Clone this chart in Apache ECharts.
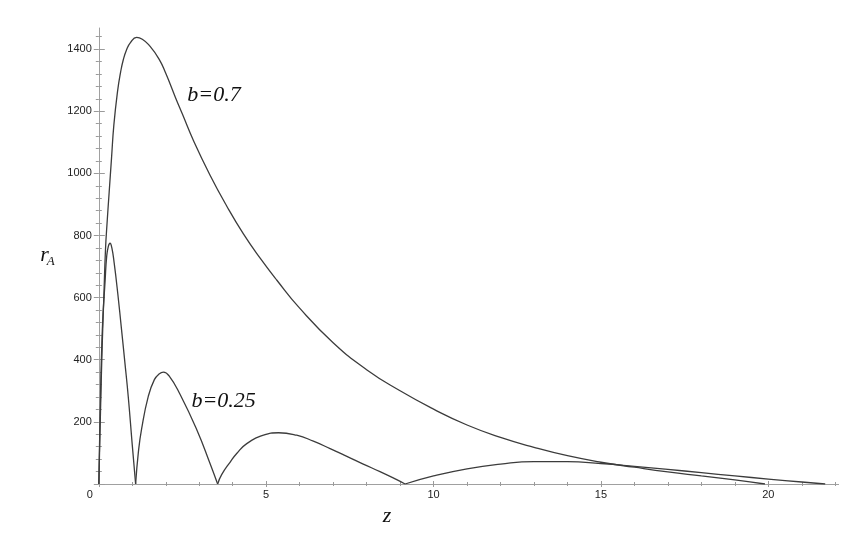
<!DOCTYPE html>
<html>
<head>
<meta charset="utf-8">
<script src="https://cdn.jsdelivr.net/npm/echarts@6/dist/echarts.min.js"></script>
<style>
html,body{margin:0;padding:0;background:#ffffff;}
#c{width:861px;height:545px;}
</style>
</head>
<body>
<div id="c"></div>
<script>
// ---- data ----
const zB07 = [0, 0.05, 0.1, 0.15, 0.2, 0.25, 0.31, 0.38, 0.45, 0.56, 0.65, 0.73, 0.83, 0.95, 1.13, 1.3, 1.5, 1.8, 2.0, 2.28, 2.5, 2.83, 3.32, 3.82, 4.32, 4.82, 5.32, 6.0, 7.0, 8.0, 9.0, 10.0, 11.0, 12.0, 13.0, 14.0, 15.0, 16.0, 17.0, 18.0, 19.0, 19.9];
const rB07 = [0, 230, 440, 600, 755, 845, 940, 1049, 1156, 1264, 1325, 1365, 1398, 1422, 1438, 1432, 1413, 1368, 1322, 1247, 1190, 1105, 995, 895, 805, 727, 656, 566, 455, 368, 300, 241, 190, 150, 118, 91, 70, 54, 39, 26, 13, 0];

const zB025 = [0, 0.03, 0.105, 0.19, 0.235, 0.285, 0.335, 0.39, 0.46, 0.57, 0.68, 0.78, 0.88, 1.0, 1.10, 1.18, 1.28, 1.48, 1.66, 1.8, 1.93, 2.1, 2.43, 2.93, 3.32, 3.55, 3.67, 3.92, 4.12, 4.42, 4.92, 5.37, 5.91, 6.41, 6.91, 7.41, 7.90, 8.40, 8.9, 9.15, 10, 11, 12, 13, 14, 15, 16, 17, 18, 19, 20, 21, 21.7];
const rB025 = [0, 174, 496, 657, 732, 765, 775, 760, 711, 610, 496, 390, 281, 125, 0, 100, 178, 283, 336, 354, 360, 348, 288, 174, 67, 0, 30, 70, 98, 130, 157, 165, 157, 138, 114, 89, 64, 40, 14, 0, 26, 49, 64, 72, 72, 66, 57, 47, 36.5, 26, 16, 6.5, 0];

const xMajorTicks = [0, 5, 10, 15, 20];
const xMinorTicks = [1, 2, 3, 4, 6, 7, 8, 9, 11, 12, 13, 14, 16, 17, 18, 19, 21, 22];
const yMajorTicks = [0, 200, 400, 600, 800, 1000, 1200, 1400];
const yLabelTicks = [200, 400, 600, 800, 1000, 1200, 1400];
const yMinorTicks = [40, 80, 120, 160, 240, 280, 320, 360, 440, 480, 520, 560, 640, 680, 720, 760, 840, 880, 920, 960, 1040, 1080, 1120, 1160, 1240, 1280, 1320, 1360, 1440];
const curveLabels = ['b=0.7', 'b=0.25'];
const xName = 'z';
const yName = 'r';
const yNameSub = 'A';

const X_MAX = 22.1;
const Y_MAX = 1468;

// ---- build ----
function pairs(zs, rs) { return zs.map((z, i) => [z, rs[i]]); }
// split a curve into arches at its interior zeros so cusps stay sharp
function arches(zs, rs) {
  const segs = [];
  let cur = [];
  for (let i = 0; i < zs.length; i++) {
    cur.push([zs[i], rs[i]]);
    if (rs[i] === 0 && i > 0 && i < zs.length - 1) {
      segs.push(cur);
      cur = [[zs[i], rs[i]]];
    }
  }
  if (cur.length > 1) segs.push(cur);
  return segs;
}

const TICK = '#9a9a9a';
const LINE = '#3c3c3c';
const SANS = 'Liberation Sans, Arial, sans-serif';
const SMOOTH = 0.5;

function xAxis(ticks, len, inside, main) {
  return {
    type: 'value', min: 0, max: X_MAX, position: 'bottom', offset: 0,
    axisLine: { show: main, lineStyle: { color: '#a0a0a0', width: 1 } },
    axisTick: { show: true, inside: inside, length: len, customValues: ticks, lineStyle: { color: TICK, width: 1 } },
    axisLabel: main ? {
      show: true, customValues: xMajorTicks, margin: 5,
      color: '#222', fontSize: 11, fontFamily: SANS,
      formatter: v => v === 0 ? '{o|0}' : String(v),
      rich: { o: { padding: [0, 18, 0, 0], color: '#222', fontSize: 11, fontFamily: SANS } }
    } : { show: false },
    splitLine: { show: false }
  };
}
function yAxis(ticks, len, inside, main) {
  return {
    type: 'value', min: 0, max: Y_MAX, position: 'left', offset: 0,
    axisLine: { show: main, lineStyle: { color: '#a0a0a0', width: 1 } },
    axisTick: { show: true, inside: inside, length: len, customValues: ticks, lineStyle: { color: TICK, width: 1 } },
    axisLabel: main ? {
      show: true, customValues: yLabelTicks, margin: 7,
      color: '#222', fontSize: 11, fontFamily: SANS,
      formatter: v => String(v)
    } : { show: false },
    splitLine: { show: false }
  };
}

const series = [];
series.push({
  type: 'line', data: pairs(zB07, rB07), xAxisIndex: 0, yAxisIndex: 0,
  showSymbol: false, smooth: SMOOTH, lineStyle: { color: LINE, width: 1.3 }, silent: true, z: 5
});
arches(zB025, rB025).forEach(seg => {
  series.push({
    type: 'line', data: seg, xAxisIndex: 0, yAxisIndex: 0,
    showSymbol: false, smooth: SMOOTH, lineStyle: { color: LINE, width: 1.3 }, silent: true, z: 5
  });
});

const chart = echarts.init(document.getElementById('c'), null, { renderer: 'canvas' });
const serif = '"Liberation Serif", "Times New Roman", serif';
chart.setOption({
  animation: false,
  backgroundColor: '#ffffff',
  grid: { left: 98.8, right: 22.4, top: 28, bottom: 61, containLabel: false, outerBoundsMode: 'none' },
  xAxis: [
    xAxis(xMajorTicks, 3, false, true),
    xAxis(xMajorTicks, 3, true, false),
    xAxis(xMinorTicks, 2, false, false),
    xAxis(xMinorTicks, 2, true, false)
  ],
  yAxis: [
    yAxis(yMajorTicks, 5, false, true),
    yAxis(yMajorTicks, 6, true, false),
    yAxis(yMinorTicks, 3, false, false),
    yAxis(yMinorTicks, 3, true, false)
  ],
  series: series,
  graphic: [
    { type: 'text', x: 214, y: 95.6, style: { text: curveLabels[0], font: 'italic 22px ' + serif, fill: '#111', align: 'center', verticalAlign: 'middle' } },
    { type: 'text', x: 223.7, y: 401.6, style: { text: curveLabels[1], font: 'italic 22px ' + serif, fill: '#111', align: 'center', verticalAlign: 'middle' } },
    { type: 'text', x: 387, y: 516.5, style: { text: xName, font: 'italic 22px ' + serif, fill: '#111', align: 'center', verticalAlign: 'middle' } },
    { type: 'text', x: 44.5, y: 255.5, style: { text: yName, font: 'italic 22px ' + serif, fill: '#111', align: 'center', verticalAlign: 'middle' } },
    { type: 'text', x: 50.8, y: 261.5, style: { text: yNameSub, font: 'italic 13px ' + serif, fill: '#111', align: 'center', verticalAlign: 'middle' } }
  ]
});
</script>
</body>
</html>
